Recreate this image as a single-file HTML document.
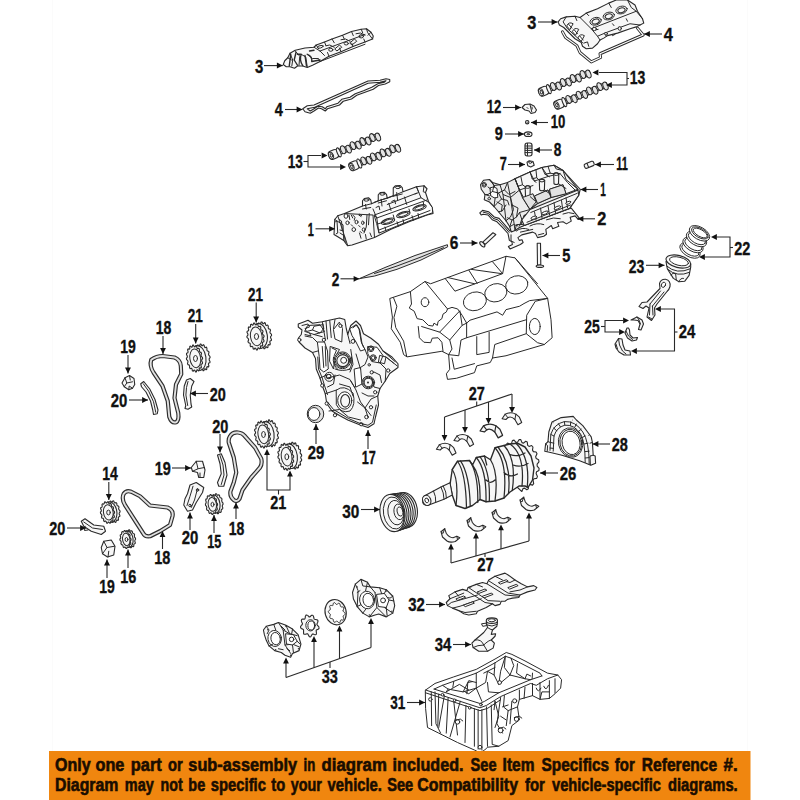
<!DOCTYPE html>
<html><head><meta charset="utf-8"><title>Engine parts diagram</title>
<style>
html,body{margin:0;padding:0;background:#fff;}
body{width:800px;height:800px;overflow:hidden;font-family:"Liberation Sans",sans-serif;}
svg{display:block}
.lb text{font:bold 18.2px "Liberation Sans",sans-serif;fill:#111;stroke:#111;stroke-width:.35px;}
.a{fill:none;stroke:#2a2a2a;stroke-width:1.1}
.h{fill:#111;stroke:none}
.p{fill:#f7f7f7;stroke:#2a2a2a;stroke-width:1.1;stroke-linejoin:round;stroke-linecap:round}
.d{fill:#e2e2e2;stroke:#2a2a2a;stroke-width:1;stroke-linejoin:round}
.w{fill:#fff;stroke:#2a2a2a;stroke-width:1;stroke-linejoin:round;stroke-linecap:round}
.l{fill:none;stroke:#2a2a2a;stroke-width:1;stroke-linejoin:round;stroke-linecap:round}
.t{fill:none;stroke:#444;stroke-width:.8;stroke-linejoin:round;stroke-linecap:round}
.k{fill:#333;stroke:none}
.m{fill:#ececec;stroke:#2a2a2a;stroke-width:1.1;stroke-linejoin:round;stroke-linecap:round}
.ch{fill:none;stroke:#2e2e2e;stroke-width:4.2;stroke-linejoin:round}
.ci{fill:none;stroke:#e0e0e0;stroke-width:1.9;stroke-linejoin:round}
.c{fill:#e4e4e4;stroke:#262626;stroke-width:1}
g.z *{vector-effect:non-scaling-stroke}
.bn text{font:bold 17.6px "Liberation Sans",sans-serif;fill:#1a0d00;stroke:#1a0d00;stroke-width:.6px;}
</style></head><body>
<svg width="800" height="800" viewBox="0 0 800 800">
<rect width="800" height="800" fill="#fff"/>
<path d="M52.5 0V751M747.5 0V751" stroke="#fbfbfb" stroke-width="1" fill="none"/>
<!-- 01_cover3L.svg -->
<g class="z" transform="translate(275,15) scale(0.15)">
<path class="p" d="M55 330L65 305L85 285L100 255L135 235L200 220L260 215L275 200L330 180L380 160L450 135L510 110L575 95L610 92L640 115L655 140L650 160L600 180L520 210L440 245L360 275L300 310L250 335L215 350L185 340L150 340L130 355L100 345L75 345Z"/>
<path class="l" d="M100 255L118 300L112 340M135 240L165 275L160 335M175 262L205 280L215 345M215 262L250 290L290 290L300 310M260 215L300 240L330 270M300 240L600 130M340 205L365 200L395 215M440 165L470 160L500 175M540 125L570 120L600 135M85 285L110 300M275 200L290 225"/>
<path class="l" style="stroke-width:1.4" d="M105 262L95 340M140 250L128 300L150 335M175 262Q160 300 185 338M215 262Q250 275 245 310L300 300M200 270L210 340M150 262L170 262M230 240L260 235"/>
<path class="l" d="M330 180L340 205M380 160L395 185M450 135L462 160M510 110L522 138M575 95L585 120M610 92L618 118L650 160M360 275L350 250M440 245L430 220M520 210L512 188M600 180L592 160M300 310L600 195M640 115L620 135"/>
<ellipse class="l" cx="372" cy="232" rx="14" ry="10"/><ellipse class="l" cx="475" cy="190" rx="14" ry="10"/><ellipse class="l" cx="575" cy="142" rx="15" ry="11"/><ellipse class="l" cx="302" cy="212" rx="20" ry="8" transform="rotate(-15 302 212)"/>
<path class="l" d="M400 225L430 200L445 215L415 238ZM500 185L530 160L545 175L515 198Z"/>
</g>
<g class="z" transform="translate(275,15) scale(0.15)">
<path class="p" fill-rule="evenodd" d="M185 625L215 605L260 600L620 440L700 435L740 425L765 430L765 445L735 460L690 470L655 495L600 515L545 535L510 560L455 575L430 600L350 625L335 640L310 625L290 620L260 640L235 655L200 645ZM215 625L265 615L620 455L700 448L740 438L730 448L685 458L645 482L590 505L535 525L500 548L445 562L420 588L345 612L335 625L315 612L285 608L255 628L235 640Z"/>
</g>

<!-- 02_cams.svg -->
<g transform="translate(330.5,155.8) rotate(-22.5)">
<rect class="p" x="0" y="-2.6" width="53.0" height="5.2" rx="1"/>
<rect class="p" x="-1.5" y="-4.3" width="9.5" height="8.6" rx="2.8"/>
<ellipse class="w" cx="0.6" cy="0" rx="2.3" ry="3.5"/>
<ellipse class="l" cx="0.9" cy="0" rx="1.1" ry="1.8"/>
<ellipse class="p" cx="9" cy="0" rx="1.7" ry="4.8"/>
<ellipse class="c" cx="14.0" cy="-0.8" rx="2.3" ry="4.1"/>
<ellipse class="c" cx="19.3" cy="0.8" rx="2.3" ry="4.1"/>
<ellipse class="c" cx="24.6" cy="-0.8" rx="2.3" ry="4.1"/>
<ellipse class="c" cx="29.9" cy="0.8" rx="2.3" ry="4.1"/>
<ellipse class="c" cx="35.2" cy="-0.8" rx="2.3" ry="4.1"/>
<ellipse class="c" cx="40.5" cy="0.8" rx="2.3" ry="4.1"/>
<ellipse class="c" cx="45.7" cy="-0.8" rx="2.3" ry="4.1"/>
<ellipse class="c" cx="51.0" cy="0.8" rx="2.3" ry="4.1"/>
</g>
<g transform="translate(351.0,167.0) rotate(-22.6)">
<rect class="p" x="0" y="-2.6" width="52.5" height="5.2" rx="1"/>
<rect class="p" x="-1.5" y="-4.3" width="9.5" height="8.6" rx="2.8"/>
<ellipse class="w" cx="0.6" cy="0" rx="2.3" ry="3.5"/>
<ellipse class="l" cx="0.9" cy="0" rx="1.1" ry="1.8"/>
<ellipse class="p" cx="9" cy="0" rx="1.7" ry="4.8"/>
<ellipse class="c" cx="14.0" cy="-0.8" rx="2.3" ry="4.1"/>
<ellipse class="c" cx="19.2" cy="0.8" rx="2.3" ry="4.1"/>
<ellipse class="c" cx="24.4" cy="-0.8" rx="2.3" ry="4.1"/>
<ellipse class="c" cx="29.7" cy="0.8" rx="2.3" ry="4.1"/>
<ellipse class="c" cx="34.9" cy="-0.8" rx="2.3" ry="4.1"/>
<ellipse class="c" cx="40.1" cy="0.8" rx="2.3" ry="4.1"/>
<ellipse class="c" cx="45.3" cy="-0.8" rx="2.3" ry="4.1"/>
<ellipse class="c" cx="50.5" cy="0.8" rx="2.3" ry="4.1"/>
</g>
<g transform="translate(540.5,92.5) rotate(-22.0)">
<rect class="p" x="0" y="-2.6" width="53.4" height="5.2" rx="1"/>
<rect class="p" x="-1.5" y="-4.3" width="9.5" height="8.6" rx="2.8"/>
<ellipse class="w" cx="0.6" cy="0" rx="2.3" ry="3.5"/>
<ellipse class="l" cx="0.9" cy="0" rx="1.1" ry="1.8"/>
<ellipse class="p" cx="9" cy="0" rx="1.7" ry="4.8"/>
<ellipse class="c" cx="14.0" cy="-0.8" rx="2.3" ry="4.1"/>
<ellipse class="c" cx="19.3" cy="0.8" rx="2.3" ry="4.1"/>
<ellipse class="c" cx="24.7" cy="-0.8" rx="2.3" ry="4.1"/>
<ellipse class="c" cx="30.0" cy="0.8" rx="2.3" ry="4.1"/>
<ellipse class="c" cx="35.4" cy="-0.8" rx="2.3" ry="4.1"/>
<ellipse class="c" cx="40.7" cy="0.8" rx="2.3" ry="4.1"/>
<ellipse class="c" cx="46.0" cy="-0.8" rx="2.3" ry="4.1"/>
<ellipse class="c" cx="51.4" cy="0.8" rx="2.3" ry="4.1"/>
</g>
<g transform="translate(556.0,105.5) rotate(-22.4)">
<rect class="p" x="0" y="-2.6" width="55.2" height="5.2" rx="1"/>
<rect class="p" x="-1.5" y="-4.3" width="9.5" height="8.6" rx="2.8"/>
<ellipse class="w" cx="0.6" cy="0" rx="2.3" ry="3.5"/>
<ellipse class="l" cx="0.9" cy="0" rx="1.1" ry="1.8"/>
<ellipse class="p" cx="9" cy="0" rx="1.7" ry="4.8"/>
<ellipse class="c" cx="14.0" cy="-0.8" rx="2.3" ry="4.1"/>
<ellipse class="c" cx="19.6" cy="0.8" rx="2.3" ry="4.1"/>
<ellipse class="c" cx="25.2" cy="-0.8" rx="2.3" ry="4.1"/>
<ellipse class="c" cx="30.8" cy="0.8" rx="2.3" ry="4.1"/>
<ellipse class="c" cx="36.4" cy="-0.8" rx="2.3" ry="4.1"/>
<ellipse class="c" cx="42.0" cy="0.8" rx="2.3" ry="4.1"/>
<ellipse class="c" cx="47.6" cy="-0.8" rx="2.3" ry="4.1"/>
<ellipse class="c" cx="53.2" cy="0.8" rx="2.3" ry="4.1"/>
</g>
<!-- 03_head1L.svg -->
<g class="z" transform="translate(325,170) scale(0.15)">
<path class="p" d="M60 430L65 330L85 305L130 290L250 240L250 205L262 190L290 185L305 200L310 225L355 205L355 165L368 150L395 148L410 162L415 188L455 172L455 120L470 105L500 103L515 118L520 145L610 112L660 105L680 125L670 150L690 210L715 250L720 290L680 300L560 345L440 395L330 450L180 500L150 505L125 470L85 445Z"/>
<path class="w" d="M330 300L640 185L690 215L715 250L718 285L560 340L440 390L360 420L345 360Z"/>
<path class="l" d="M85 305L150 500M65 330L120 365L125 470M130 290L320 300L330 450M295 290L290 365M330 300L345 320L680 200M250 240L310 225M355 205L415 188M455 172L520 145M270 230L275 260M375 195L380 240M478 150L484 200M360 400L700 270M345 320L360 420M480 345L490 375M580 305L590 335M610 112L640 185M400 380L405 400M520 330L525 355M620 290L625 315"/>
<ellipse class="p" cx="420" cy="342" rx="46" ry="17" transform="rotate(-17 420 342)"/><ellipse class="p" cx="522" cy="297" rx="46" ry="17" transform="rotate(-17 522 297)"/><ellipse class="p" cx="630" cy="252" rx="46" ry="17" transform="rotate(-17 630 252)"/>
<ellipse class="w" cx="140" cy="307" rx="13" ry="15"/><ellipse class="w" cx="150" cy="352" rx="11" ry="12"/><ellipse class="w" cx="210" cy="347" rx="10" ry="12"/><ellipse class="w" cx="252" cy="352" rx="8" ry="12"/><ellipse class="w" cx="192" cy="397" rx="12" ry="13"/><ellipse class="w" cx="258" cy="397" rx="10" ry="11"/>
<ellipse class="l" cx="276" cy="200" rx="16" ry="8"/><ellipse class="l" cx="382" cy="160" rx="16" ry="8"/><ellipse class="l" cx="486" cy="116" rx="16" ry="8"/>
<path class="l" d="M175 300L185 320M225 300L240 310M100 400L118 405M230 420L240 455M270 430L275 460"/>
<path class="l" d="M70 345L80 340L85 420L75 425M95 330L110 340L115 400M100 420L130 440L135 480M160 300L165 330M185 300L200 315L195 335M230 295L245 305M175 365L185 375M225 370L235 380M235 410L245 420M280 300L275 380L260 420M300 420L310 445M350 360L400 345M455 300L460 320M560 260L565 280M655 215L660 240M330 215L455 172M415 230L610 155M250 260L305 250M355 220L410 205M455 175L515 160M320 260L345 320M425 222L440 270M530 180L545 230M340 250L360 240L365 265M445 210L465 200L470 225M610 112L625 150L600 160M660 105L655 145L670 150"/>
<ellipse class="l" cx="420" cy="342" rx="34" ry="10" transform="rotate(-17 420 342)"/><ellipse class="l" cx="522" cy="297" rx="34" ry="10" transform="rotate(-17 522 297)"/><ellipse class="l" cx="630" cy="252" rx="34" ry="10" transform="rotate(-17 630 252)"/>
</g>
<g class="z" transform="translate(325,170) scale(0.15)">
<path class="d" d="M230 724L400 650L600 570L816 498L818 512L640 600L480 662L330 707Z"/>
<path class="l" d="M330 690L480 640L640 580L790 518"/>
</g>

<!-- 04_cover3R.svg -->
<g class="z" transform="translate(550,0) scale(0.125)">
<path class="l" style="stroke-width:3" d="M100 255L125 300L215 365L240 420L330 495L405 460L400 430L745 280L700 225"/>
<path class="l" style="stroke:#fff;stroke-width:1.2" d="M100 255L125 300L215 365L240 420L330 495L405 460L400 430L745 280L700 225"/>
<path class="p" d="M65 175L85 150L130 135L200 130L240 140L290 105L380 70L470 25L530 0L620 0L680 40L700 90L740 150L750 185L720 200L690 215L640 230L540 265L460 285L430 305L400 320L380 350L340 385L290 390L260 370L250 340L200 310L150 260L110 220L75 200Z"/>
<path class="l" d="M240 140L330 230L380 290L400 320M130 135L105 175L140 230L260 340M200 130L215 165M330 230L690 90L740 150M380 290L450 260L640 190L720 200M290 105L310 125M470 25L490 60M620 0L650 60L690 90"/>
<ellipse class="w" cx="365" cy="170" rx="46" ry="30" transform="rotate(-15 365 170)"/><ellipse class="p" cx="365" cy="172" rx="30" ry="19" transform="rotate(-15 365 172)"/>
<ellipse class="w" cx="470" cy="128" rx="46" ry="30" transform="rotate(-15 470 128)"/><ellipse class="p" cx="470" cy="130" rx="30" ry="19" transform="rotate(-15 470 130)"/>
<ellipse class="w" cx="572" cy="80" rx="46" ry="30" transform="rotate(-15 572 80)"/><ellipse class="p" cx="572" cy="82" rx="30" ry="19" transform="rotate(-15 572 82)"/>
<path class="w" d="M135 205Q150 170 185 190Q170 215 160 235ZM180 250Q195 215 230 235Q215 262 205 280ZM225 300Q240 265 275 285Q262 312 250 330Z"/>
<path class="l" d="M150 195L175 225M195 240L220 270M240 290L265 320M270 345L300 335L310 370M350 215L360 240L385 235M440 265L450 290M500 285L520 275M555 215L565 240M610 150L620 170M500 190L512 205"/>
<ellipse class="w" cx="355" cy="232" rx="16" ry="13"/><ellipse class="w" cx="558" cy="228" rx="13" ry="14"/><ellipse class="w" cx="448" cy="270" rx="12" ry="10"/>
</g>

<!-- 05_head1R.svg -->
<g class="z" transform="translate(470,160) scale(0.15)">
</g>
<g class="z" transform="translate(475,195) scale(0.1375)">
<path class="p" d="M35 130L55 112L100 122L140 160L175 170L215 215L255 262L275 250L700 95L760 170L750 178L728 152L692 162L700 190L665 210L640 195L600 200L610 228L565 245L555 222L515 250L520 285L500 300L455 310L440 280L420 270L340 290L312 310L322 330L342 325L350 345L330 360L255 392L243 375L272 360L268 340L250 330L240 280L200 235L160 195L125 180L95 145L60 140L45 145Z"/>
<path class="l" d="M300 262Q340 230 390 250M400 225Q450 198 500 215M520 180Q570 158 620 172M640 138Q680 118 720 135M60 125L98 134L132 170L168 182L208 225L248 272M262 290L262 335L285 345M330 270L420 250M460 290L500 280"/>
</g>
<g class="z" transform="translate(470,160) scale(0.15)">
<path class="m" d="M70 165L90 135L130 130L150 150L200 165L250 150L300 125L400 80L480 50L560 35L620 70L735 195L725 235L665 321L361 437L330 450L300 470L275 480L265 445L240 405L190 345L160 310L130 280L95 265L100 230L75 195Z"/>
<path class="p" d="M300 125L400 80L480 50L560 35L620 70L720 195L640 225L540 250L450 290L400 330L350 250Z"/>
<path class="l" d="M620 70L640 130L720 195M400 80L430 140M480 50L520 110M300 125L330 200L400 330M330 200L420 170M430 140L520 110L600 90M450 290L430 240L520 200L540 250M540 250L530 195L620 165L640 225M340 430L360 370L440 350M360 370L700 235M380 400L690 260M150 150L175 200L160 310M200 165L220 230L240 405M250 150L270 250L300 470M220 230L270 250L330 200M100 230L130 240L175 200"/>
<path class="p" d="M368 178Q385 165 402 178L400 245Q385 255 370 245ZM462 135Q480 122 498 135L496 200Q480 210 464 200ZM558 92Q575 80 592 92L590 158Q575 168 560 158Z"/>
<path class="d" d="M430 240L520 200L540 250L450 290ZM530 195L620 165L640 225L540 250ZM350 250L420 225L440 280L400 330Z"/>
<ellipse class="w" cx="95" cy="165" rx="14" ry="16"/><ellipse class="w" cx="128" cy="258" rx="9" ry="8"/><ellipse class="w" cx="385" cy="385" rx="14" ry="10"/><ellipse class="w" cx="425" cy="390" rx="12" ry="9"/>
<path class="w" d="M135 185Q160 170 180 190L185 250Q160 260 140 240Z"/>
<path class="l" d="M180 280L215 300L210 340M280 300L320 320L310 380M265 445L290 430L320 440"/>
<path class="l" d="M130 130L160 170L150 210L120 230L100 230M160 170L200 165M150 210L190 220L210 260L180 290L160 310M120 180L140 195M190 220L230 200L250 150M210 260L250 270L260 300M230 200L260 230L300 210M300 125L320 175L350 165L340 115M400 80L415 125L445 118L440 68M480 50L500 95L535 88L520 42M350 165L368 178M445 118L462 135M535 88L558 92M320 175L335 215M415 125L440 150M500 95L530 112M600 90L650 150L700 200M560 35L575 60L620 70M590 158L640 190M496 200L540 230M402 245L430 270M440 350L445 320L560 275L560 300M640 270L640 245L560 275M470 330L480 345M530 305L540 322M600 280L610 295M660 255L670 262M300 470L310 430L350 430M330 440L345 395L400 400M345 395L330 350L400 330M265 445L280 400L310 380L330 350M240 405L270 380L290 330L270 250M190 345L215 340L240 300M280 400L250 385"/>
<ellipse class="l" cx="385" cy="180" rx="17" ry="9"/><ellipse class="l" cx="480" cy="137" rx="17" ry="9"/><ellipse class="l" cx="575" cy="94" rx="17" ry="9"/>
<ellipse class="l" cx="95" cy="165" rx="8" ry="9"/>
<path class="p" d="M400 330L720 200L725 235L665 321L361 437L345 400Z"/>
<path class="l" d="M405 350L715 222M380 415L670 300M470 320L480 385M560 285L570 350M640 252L650 318M430 345L440 400M520 305L530 365M610 270L618 330"/>
<ellipse class="w" cx="583" cy="318" rx="24" ry="9" transform="rotate(-22 583 318)"/><ellipse class="w" cx="500" cy="352" rx="24" ry="9" transform="rotate(-22 500 352)"/><ellipse class="w" cx="425" cy="385" rx="20" ry="9" transform="rotate(-22 425 385)"/><ellipse class="w" cx="655" cy="285" rx="18" ry="8" transform="rotate(-22 655 285)"/>
<path class="p" d="M85 547L153 485L172 497L102 562Z"/><ellipse class="p" cx="82" cy="562" rx="11" ry="22" transform="rotate(-42 82 562)"/>
<path class="p" d="M448 555L470 555L472 700L450 700Z"/><ellipse class="p" cx="466" cy="708" rx="25" ry="8"/>
<path class="p" d="M380 15L395 5L420 10L428 35L405 46L385 38Z"/><ellipse class="w" cx="402" cy="16" rx="10" ry="6"/>
</g>
<g transform="translate(585.5,166.3) rotate(-22)"><rect class="p" x="-1" y="-2.3" width="10" height="4.6" rx="1.5"/><path class="l" d="M2.5 -2.3V2.3"/></g>

<!-- 06_small.svg -->
<g class="z" transform="translate(500,95) scale(0.1)">
<path class="p" d="M220 125L250 95L300 90L340 110L365 150L350 175L310 185L290 160L250 150Z"/><path class="l" d="M300 95L318 170M270 125L280 135M320 120L322 140"/>
<circle class="p" cx="272" cy="272" r="17"/><circle class="k" cx="272" cy="272" r="6"/>
<ellipse class="p" cx="282" cy="392" rx="38" ry="23"/><ellipse class="w" cx="282" cy="392" rx="13" ry="6"/>
<rect class="p" x="250" y="480" width="70" height="130" rx="22"/><path class="l" d="M252 510H318M252 532H318M252 554H318M252 576H318M275 485V605"/>
</g>

<!-- 07_block.svg -->
<g class="z" transform="translate(380,250) scale(0.225)">
<path class="w" d="M45 215L135 185L185 150L200 140L225 150L560 28L600 35L745 215L760 310L765 390L730 420L560 470L500 480L490 500L430 515L420 545L340 570L300 575L295 550L310 530L305 465L275 450L120 475L105 465L90 410L50 350L55 300Z"/>
<path class="l" d="M135 185L140 240L130 258L152 272L165 305L190 310L215 335L235 338L240 325L255 335L258 318L275 305L280 285L295 275L300 262L200 140M290 127L333 183L545 105L560 28M300 122L420 150M395 90L432 148M405 86L540 105M500 52L545 105M300 262L320 255L345 262L365 290L385 325L400 312L520 275L545 290L560 265L620 250L640 238L665 225L745 215M745 215L690 228L652 290L650 372L700 412L730 420M385 325L385 390L360 400L350 470L305 465M385 390L650 310M430 385L430 465L485 455L485 365M500 480L510 420L650 372M170 340L175 390L195 410L225 412L232 392L258 390L275 410L280 450M185 340L265 365L310 400L365 335L355 270L265 365M365 335L385 325M310 400L320 440L305 465M60 212L75 250L62 300L70 345L105 405L118 470M320 480L330 530L420 505M600 35L700 150"/>
<ellipse class="l" cx="200" cy="232" rx="17" ry="20"/>
<ellipse class="l" cx="422" cy="228" rx="52" ry="41" transform="rotate(-15 422 228)"/><ellipse class="l" cx="515" cy="190" rx="50" ry="40" transform="rotate(-15 515 190)"/><ellipse class="l" cx="608" cy="155" rx="50" ry="40" transform="rotate(-15 608 155)"/>
<ellipse class="l" cx="688" cy="340" rx="24" ry="36"/>
</g>

<!-- 08_piston.svg -->
<g class="z" transform="translate(650,215) scale(0.1)">
<g fill="#fff" stroke="#2a2a2a" stroke-width="1">
<ellipse cx="400" cy="355" rx="112" ry="62" transform="rotate(30 400 355)"/><ellipse class="l" cx="404" cy="350" rx="95" ry="48" transform="rotate(30 404 350)"/>
<ellipse cx="430" cy="300" rx="112" ry="62" transform="rotate(30 430 300)"/><ellipse class="l" cx="434" cy="295" rx="95" ry="48" transform="rotate(30 434 295)"/>
<ellipse cx="465" cy="240" rx="112" ry="62" transform="rotate(30 465 240)"/><ellipse class="l" cx="469" cy="235" rx="95" ry="48" transform="rotate(30 469 235)"/>
<ellipse cx="495" cy="183" rx="112" ry="62" transform="rotate(30 495 183)"/><ellipse class="l" cx="499" cy="180" rx="93" ry="46" transform="rotate(30 499 180)"/>
<ellipse cx="502" cy="180" rx="78" ry="34" transform="rotate(30 502 180)"/>
</g>
</g>
<g class="z" transform="translate(580,230) scale(0.225)">
<path class="p" d="M382 140L388 172L415 215L440 230L465 228L485 202L492 165L492 150Z"/>
<path class="l" d="M385 160Q430 200 491 172M389 174Q432 212 487 188M405 200Q412 185 425 195L428 222M440 230Q445 212 460 215"/>
<ellipse class="p" cx="437" cy="140" rx="56" ry="27" transform="rotate(14 437 140)"/>
<ellipse class="w" cx="440" cy="139" rx="43" ry="18" transform="rotate(14 440 139)"/>
</g>
<g class="z" transform="translate(610,275) scale(0.1)">
<path class="p" d="M495 85Q505 40 555 42Q610 55 600 115Q590 150 570 165L470 290L445 330L450 400L415 455L370 420L390 330L360 310L330 335L290 315L320 275L370 270L500 135Z"/>
<ellipse class="w" cx="535" cy="98" rx="20" ry="27" transform="rotate(25 535 98)"/>
<path class="l" d="M505 160L400 290M540 170L425 310M400 290L395 400M425 310L430 400M385 420L420 440"/>
<path class="p" d="M210 450L270 420L320 450L335 490L310 550L285 545L300 490L280 455L240 450Z"/><path class="l" d="M270 420L290 450L305 490"/>
<path class="p" d="M170 530L150 580L175 630L220 660L265 650L275 625L230 630L200 600L195 550L185 530Z"/><path class="l" d="M160 560L185 610L225 645"/>
<path class="p" d="M50 690L85 635L120 640L130 700L150 750L200 760L205 800L140 800L90 770L60 730Z"/><path class="l" d="M85 635L95 700L125 760L160 790M60 690L75 740"/>
</g>

<!-- 09_cover17.svg -->
<g class="z" transform="translate(290,312) scale(0.15)">
<path class="p" d="M55 80L95 65L120 55L150 75L215 65L260 55L330 40L365 50L375 110L385 150L405 90L440 60L470 90L490 145L540 175L590 215L620 260L680 300L720 345L720 370L665 410L635 460L600 510L585 560L590 620L570 700L560 745L520 770L460 750L385 720L330 690L280 660L245 610L235 545L215 490L200 440L175 380L170 310L150 270L100 240L60 200L55 175L75 150L80 120L55 100Z"/>
<path class="w" d="M185 200L230 200L250 260L255 380L225 400L200 380L195 300ZM270 230L330 250L300 300L290 380L265 330ZM400 110L440 85L465 120L480 210L500 250L470 260L440 200L415 160ZM330 70L350 110L345 200L300 180L290 120ZM520 230L580 235L620 290L600 340L545 330L520 280ZM430 380L470 370L480 480L440 500ZM120 90L200 85L230 130L160 150L100 130Z"/>
<circle class="w" cx="350" cy="322" r="56"/><circle class="p" cx="352" cy="324" r="40"/><circle class="w" cx="358" cy="322" r="20"/>
<circle class="w" cx="522" cy="470" r="42"/><circle class="p" cx="522" cy="470" r="28"/><circle class="k" cx="520" cy="470" r="7"/>
<ellipse class="w" cx="365" cy="590" rx="47" ry="58"/><ellipse class="p" cx="368" cy="592" rx="30" ry="42"/>
<circle class="w" cx="262" cy="432" r="30"/><circle class="p" cx="258" cy="430" r="15"/>
<g class="w"><circle cx="62" cy="186" r="11"/><circle cx="215" cy="490" r="11"/><circle cx="245" cy="610" r="11"/><circle cx="300" cy="688" r="11"/><circle cx="475" cy="748" r="11"/><circle cx="540" cy="635" r="11"/><circle cx="568" cy="535" r="11"/><circle cx="655" cy="390" r="11"/><circle cx="545" cy="402" r="11"/><circle cx="420" cy="196" r="13"/><circle cx="336" cy="92" r="11"/><circle cx="226" cy="186" r="11"/><circle cx="510" cy="700" r="12"/><circle cx="540" cy="245" r="11"/><circle cx="555" cy="305" r="12"/><circle cx="528" cy="352" r="8"/></g>
<path class="l" d="M215 230L225 370M235 230L240 360M250 440L330 420L400 450L440 520L470 600L540 690M260 660L330 650L390 700L470 720M330 480L400 500L420 560M585 560L540 580L500 640M600 340L640 380L635 460M440 280L470 380M405 250L420 350L400 400M150 270L185 260M100 160L150 170L180 200M300 420L290 480L250 500M640 300L690 340M385 150L400 210"/>
<path class="l" d="M80 90L120 80L130 100L100 110L110 130L150 120L160 95L215 85M150 120L200 140L225 110L220 80M100 150L140 160L130 140M160 150L215 165M250 600L290 650L340 680L390 710L460 740L520 755L550 735L575 620M185 300L190 380L215 440L230 490L250 550M310 520Q360 480 420 540Q440 620 400 660Q340 680 310 620ZM620 260L700 330M640 300L715 360M600 290L640 300L630 345L592 335ZM420 105L445 85L460 110L475 200L490 235M280 240L310 255L295 290M300 380Q350 400 400 380M290 300Q280 350 320 385M410 300Q420 350 395 385M240 60L250 180M265 58L275 170M300 50L290 110M215 65L235 180M500 250L520 300L500 350L470 370M560 400L600 420L610 470M480 540L520 560L560 560M450 600L500 640L520 700M405 460L430 500M200 440L245 420M235 545L280 530L310 520M600 510L560 500L545 440"/>
<circle class="l" cx="540" cy="245" r="19"/><circle class="l" cx="555" cy="305" r="20"/><circle class="l" cx="350" cy="322" r="48"/><circle class="l" cx="522" cy="470" r="35"/>
<ellipse class="d" cx="170" cy="680" rx="55" ry="58"/><ellipse class="w" cx="160" cy="680" rx="39" ry="43"/>
</g>

<!-- 10_sprockets.svg -->
<path class="p" d="M271.4 334.2L271.6 335.5L270.6 336.6L270.6 337.8L271.5 339.4L271.3 340.6L270.1 341.0L269.8 342.0L270.3 344.0L269.8 345.0L268.5 344.6L267.9 345.3L268.0 347.3L267.2 347.8L266.1 346.7L265.4 347.0L264.9 348.7L264.0 348.8L263.2 347.1L262.4 346.9L261.5 348.2L260.7 347.7L260.3 345.7L259.6 345.1L258.4 345.7L257.7 344.8L257.8 342.8L257.2 341.8L255.9 341.6L255.5 340.4L256.1 338.7L255.8 337.6L254.6 336.6L254.4 335.2L255.4 334.1L255.4 333.0L254.5 331.4L254.7 330.1L255.9 329.7L256.2 328.7L255.7 326.8L256.2 325.8L257.5 326.2L258.1 325.5L258.0 323.5L258.8 322.9L259.9 324.0L260.6 323.8L261.1 322.0L262.0 322.0L262.8 323.6L263.6 323.8L264.5 322.6L265.3 323.0L265.7 325.0L266.4 325.6L267.6 325.1L268.3 326.0L268.2 328.0L268.8 328.9L270.1 329.2L270.5 330.4L269.9 332.1L270.2 333.2Z"/>
<ellipse class="p" cx="259.6" cy="335.9" rx="7.8" ry="12.4" transform="rotate(-8 259.6 336.5)"/>
<path class="p" d="M263.9 335.3L264.1 336.6L263.1 337.8L263.1 338.9L264.0 340.5L263.8 341.8L262.6 342.2L262.3 343.2L262.8 345.1L262.3 346.1L261.0 345.7L260.4 346.4L260.5 348.4L259.7 348.9L258.6 347.8L257.9 348.1L257.4 349.9L256.5 349.9L255.7 348.2L254.9 348.1L254.0 349.3L253.2 348.8L252.8 346.9L252.1 346.3L250.9 346.8L250.2 345.9L250.3 343.9L249.7 343.0L248.4 342.7L248.0 341.5L248.6 339.8L248.3 338.7L247.1 337.7L246.9 336.4L247.9 335.2L247.9 334.1L247.0 332.5L247.2 331.2L248.4 330.8L248.7 329.8L248.2 327.9L248.7 326.9L250.0 327.3L250.6 326.6L250.5 324.6L251.3 324.1L252.4 325.2L253.1 324.9L253.6 323.1L254.5 323.1L255.3 324.8L256.1 324.9L257.0 323.7L257.8 324.2L258.2 326.1L258.9 326.7L260.1 326.2L260.8 327.1L260.7 329.1L261.3 330.0L262.6 330.3L263.0 331.5L262.4 333.2L262.7 334.3Z"/>
<ellipse class="l" cx="256.3" cy="336.5" rx="5.8" ry="9.4" transform="rotate(-8 255.5 336.5)"/>
<ellipse class="l" cx="256.5" cy="336.5" rx="2.1" ry="3.0"/>
<path class="p" d="M209.9 356.3L210.1 357.6L209.2 358.7L209.2 359.9L210.0 361.5L209.9 362.7L208.7 363.1L208.4 364.1L208.9 366.0L208.5 367.0L207.2 366.6L206.7 367.3L206.8 369.3L206.1 369.8L205.0 368.7L204.3 369.0L203.9 370.7L203.1 370.8L202.3 369.1L201.6 368.9L200.7 370.2L199.9 369.7L199.5 367.7L198.9 367.1L197.7 367.6L197.1 366.7L197.1 364.7L196.6 363.8L195.4 363.5L195.0 362.3L195.5 360.6L195.2 359.5L194.1 358.5L193.9 357.2L194.8 356.0L194.8 354.9L194.0 353.3L194.1 352.1L195.3 351.7L195.6 350.7L195.1 348.7L195.5 347.7L196.8 348.1L197.3 347.5L197.2 345.5L197.9 344.9L199.0 346.0L199.7 345.8L200.1 344.0L200.9 344.0L201.7 345.6L202.4 345.8L203.3 344.6L204.1 345.1L204.5 347.0L205.1 347.7L206.3 347.1L206.9 348.0L206.9 350.0L207.4 351.0L208.6 351.2L209.0 352.4L208.5 354.1L208.8 355.2Z"/>
<ellipse class="p" cx="198.6" cy="357.9" rx="7.4" ry="12.4" transform="rotate(-8 198.6 358.5)"/>
<path class="p" d="M202.4 357.4L202.6 358.7L201.7 359.8L201.7 361.0L202.5 362.6L202.4 363.8L201.2 364.2L200.9 365.2L201.4 367.2L201.0 368.1L199.7 367.7L199.2 368.4L199.3 370.4L198.6 371.0L197.5 369.8L196.8 370.1L196.4 371.9L195.6 371.9L194.8 370.2L194.1 370.0L193.2 371.3L192.4 370.8L192.0 368.8L191.4 368.2L190.2 368.7L189.6 367.8L189.6 365.9L189.1 364.9L187.9 364.6L187.5 363.4L188.0 361.8L187.7 360.6L186.6 359.6L186.4 358.3L187.3 357.2L187.3 356.0L186.5 354.4L186.6 353.2L187.8 352.8L188.1 351.8L187.6 349.8L188.0 348.9L189.3 349.3L189.8 348.6L189.7 346.6L190.4 346.0L191.5 347.2L192.2 346.9L192.6 345.1L193.4 345.1L194.2 346.8L194.9 347.0L195.8 345.7L196.6 346.2L197.0 348.2L197.6 348.8L198.8 348.3L199.4 349.2L199.4 351.1L199.9 352.1L201.1 352.4L201.5 353.6L201.0 355.2L201.3 356.4Z"/>
<ellipse class="l" cx="195.3" cy="358.5" rx="5.4" ry="9.4" transform="rotate(-8 194.5 358.5)"/>
<ellipse class="l" cx="195.5" cy="358.5" rx="2.0" ry="3.0"/>
<path class="p" d="M278.2 432.2L278.4 433.5L277.5 434.7L277.5 435.8L278.4 437.4L278.2 438.6L277.1 439.0L276.8 440.0L277.3 442.0L276.9 442.9L275.7 442.6L275.2 443.2L275.2 445.2L274.5 445.8L273.4 444.7L272.8 444.9L272.4 446.7L271.6 446.7L270.8 445.0L270.1 444.8L269.3 446.1L268.5 445.6L268.1 443.6L267.5 443.0L266.4 443.5L265.7 442.6L265.8 440.6L265.3 439.7L264.1 439.4L263.7 438.2L264.2 436.5L263.9 435.4L262.8 434.4L262.6 433.1L263.5 431.9L263.5 430.8L262.6 429.2L262.8 428.0L263.9 427.6L264.2 426.6L263.7 424.6L264.1 423.7L265.3 424.0L265.8 423.4L265.8 421.4L266.5 420.8L267.6 421.9L268.2 421.7L268.6 419.9L269.4 419.9L270.2 421.6L270.9 421.8L271.7 420.5L272.5 421.0L272.9 423.0L273.5 423.6L274.6 423.1L275.3 424.0L275.2 426.0L275.7 426.9L276.9 427.2L277.3 428.4L276.8 430.1L277.1 431.2Z"/>
<ellipse class="p" cx="266.9" cy="433.9" rx="7.2" ry="12.4" transform="rotate(-8 266.9 434.5)"/>
<path class="p" d="M270.2 433.4L270.4 434.7L269.5 435.9L269.5 437.0L270.4 438.6L270.2 439.8L269.1 440.2L268.8 441.2L269.3 443.2L268.9 444.1L267.7 443.8L267.2 444.4L267.2 446.4L266.5 447.0L265.4 445.9L264.8 446.1L264.4 447.9L263.6 447.9L262.8 446.2L262.1 446.0L261.3 447.3L260.5 446.8L260.1 444.8L259.5 444.2L258.4 444.7L257.7 443.8L257.8 441.8L257.3 440.9L256.1 440.6L255.7 439.4L256.2 437.7L255.9 436.6L254.8 435.6L254.6 434.3L255.5 433.1L255.5 432.0L254.6 430.4L254.8 429.2L255.9 428.8L256.2 427.8L255.7 425.8L256.1 424.9L257.3 425.2L257.8 424.6L257.8 422.6L258.5 422.0L259.6 423.1L260.2 422.9L260.6 421.1L261.4 421.1L262.2 422.8L262.9 423.0L263.7 421.7L264.5 422.2L264.9 424.2L265.5 424.8L266.6 424.3L267.3 425.2L267.2 427.2L267.7 428.1L268.9 428.4L269.3 429.6L268.8 431.3L269.1 432.4Z"/>
<ellipse class="l" cx="263.3" cy="434.5" rx="5.3" ry="9.4" transform="rotate(-8 262.5 434.5)"/>
<ellipse class="l" cx="263.5" cy="434.5" rx="1.9" ry="3.0"/>
<path class="p" d="M301.5 454.5L301.7 455.8L300.8 457.0L300.8 458.1L301.7 459.7L301.5 460.9L300.4 461.3L300.1 462.3L300.6 464.3L300.2 465.2L299.0 464.9L298.5 465.5L298.5 467.5L297.8 468.1L296.7 467.0L296.1 467.2L295.7 469.0L294.9 469.0L294.1 467.3L293.4 467.1L292.6 468.4L291.8 467.9L291.4 465.9L290.8 465.3L289.7 465.8L289.0 464.9L289.1 462.9L288.6 462.0L287.4 461.7L287.0 460.5L287.5 458.8L287.2 457.7L286.1 456.7L285.9 455.4L286.8 454.2L286.8 453.1L285.9 451.5L286.1 450.3L287.2 449.9L287.5 448.9L287.0 446.9L287.4 446.0L288.6 446.3L289.1 445.7L289.1 443.7L289.8 443.1L290.9 444.2L291.5 444.0L291.9 442.2L292.7 442.2L293.5 443.9L294.2 444.1L295.0 442.8L295.8 443.3L296.2 445.3L296.8 445.9L297.9 445.4L298.6 446.3L298.5 448.3L299.0 449.2L300.2 449.5L300.6 450.7L300.1 452.4L300.4 453.5Z"/>
<ellipse class="p" cx="290.2" cy="456.2" rx="7.2" ry="12.4" transform="rotate(-8 290.2 456.8)"/>
<path class="p" d="M293.5 455.7L293.7 457.0L292.8 458.2L292.8 459.3L293.7 460.9L293.5 462.1L292.4 462.5L292.1 463.5L292.6 465.5L292.2 466.4L291.0 466.1L290.5 466.7L290.5 468.7L289.8 469.3L288.7 468.2L288.1 468.4L287.7 470.2L286.9 470.2L286.1 468.5L285.4 468.3L284.6 469.6L283.8 469.1L283.4 467.1L282.8 466.5L281.7 467.0L281.0 466.1L281.1 464.1L280.6 463.2L279.4 462.9L279.0 461.7L279.5 460.0L279.2 458.9L278.1 457.9L277.9 456.6L278.8 455.4L278.8 454.3L277.9 452.7L278.1 451.5L279.2 451.1L279.5 450.1L279.0 448.1L279.4 447.2L280.6 447.5L281.1 446.9L281.1 444.9L281.8 444.3L282.9 445.4L283.5 445.2L283.9 443.4L284.7 443.4L285.5 445.1L286.2 445.3L287.0 444.0L287.8 444.5L288.2 446.5L288.8 447.1L289.9 446.6L290.6 447.5L290.5 449.5L291.0 450.4L292.2 450.7L292.6 451.9L292.1 453.6L292.4 454.7Z"/>
<ellipse class="l" cx="286.6" cy="456.8" rx="5.3" ry="9.4" transform="rotate(-8 285.8 456.8)"/>
<ellipse class="l" cx="286.8" cy="456.8" rx="1.9" ry="3.0"/>
<path class="p" d="M119.9 510.7L120.1 511.9L119.2 513.0L119.2 514.0L119.9 515.5L119.7 516.6L118.6 517.0L118.3 517.8L118.5 519.6L118.0 520.4L116.9 519.9L116.3 520.4L116.0 522.1L115.3 522.4L114.3 521.3L113.7 521.3L113.0 522.5L112.2 522.3L111.6 520.7L110.9 520.2L109.9 520.8L109.2 520.1L109.1 518.3L108.6 517.5L107.4 517.3L107.0 516.2L107.4 514.6L107.1 513.6L106.1 512.6L105.9 511.4L106.8 510.4L106.8 509.3L106.1 507.8L106.3 506.7L107.4 506.4L107.7 505.5L107.5 503.8L108.0 503.0L109.1 503.4L109.7 502.9L110.0 501.3L110.7 501.0L111.7 502.1L112.3 502.1L113.0 500.8L113.8 501.1L114.4 502.7L115.1 503.1L116.1 502.6L116.8 503.3L116.9 505.0L117.4 505.8L118.6 506.1L119.0 507.2L118.6 508.7L118.9 509.7Z"/>
<ellipse class="p" cx="110.5" cy="512.1" rx="6.4" ry="10.1" transform="rotate(-8 110.5 512.5)"/>
<path class="p" d="M114.4 511.5L114.6 512.8L113.7 513.8L113.7 514.9L114.4 516.3L114.2 517.5L113.1 517.8L112.8 518.7L113.0 520.4L112.5 521.2L111.4 520.8L110.8 521.3L110.5 522.9L109.8 523.2L108.8 522.1L108.2 522.1L107.5 523.3L106.7 523.1L106.1 521.5L105.4 521.1L104.4 521.6L103.7 520.9L103.6 519.1L103.1 518.3L101.9 518.1L101.5 517.0L101.9 515.5L101.6 514.4L100.6 513.5L100.4 512.2L101.3 511.2L101.3 510.1L100.6 508.7L100.8 507.5L101.9 507.2L102.2 506.3L102.0 504.6L102.5 503.8L103.6 504.2L104.2 503.7L104.5 502.1L105.2 501.8L106.2 502.9L106.8 502.9L107.5 501.7L108.3 501.9L108.9 503.5L109.6 503.9L110.6 503.4L111.3 504.1L111.4 505.9L111.9 506.7L113.1 506.9L113.5 508.0L113.1 509.5L113.4 510.6Z"/>
<ellipse class="l" cx="108.3" cy="512.5" rx="4.8" ry="7.7" transform="rotate(-8 107.5 512.5)"/>
<ellipse class="l" cx="108.5" cy="512.5" rx="1.8" ry="2.4"/>
<path class="p" d="M135.4 538.1L135.6 539.2L134.9 540.2L134.8 541.2L135.3 542.6L135.1 543.6L134.2 543.9L133.8 544.6L133.8 546.2L133.2 546.8L132.3 546.2L131.7 546.5L131.3 547.7L130.5 547.8L129.8 546.6L129.2 546.3L128.4 546.9L127.7 546.4L127.4 544.8L126.9 544.1L125.9 543.9L125.4 542.9L125.7 541.5L125.4 540.5L124.6 539.6L124.4 538.4L125.1 537.4L125.2 536.4L124.7 535.0L124.9 534.0L125.8 533.8L126.2 533.0L126.2 531.5L126.8 530.9L127.7 531.4L128.3 531.1L128.7 529.9L129.5 529.9L130.2 531.1L130.8 531.3L131.6 530.7L132.3 531.3L132.6 532.8L133.1 533.5L134.1 533.7L134.6 534.7L134.3 536.1L134.6 537.1Z"/>
<ellipse class="p" cx="128.0" cy="539.1" rx="5.1" ry="8.3" transform="rotate(-8 128.0 539.5)"/>
<path class="p" d="M130.9 538.7L131.1 539.9L130.4 540.9L130.3 541.9L130.8 543.3L130.6 544.3L129.7 544.6L129.3 545.3L129.3 546.8L128.7 547.4L127.8 546.9L127.2 547.2L126.8 548.4L126.0 548.4L125.3 547.3L124.7 547.0L123.9 547.6L123.2 547.0L122.9 545.5L122.4 544.8L121.4 544.6L120.9 543.6L121.2 542.2L120.9 541.2L120.1 540.3L119.9 539.1L120.6 538.1L120.7 537.1L120.2 535.7L120.4 534.7L121.3 534.4L121.7 533.7L121.7 532.2L122.3 531.6L123.2 532.1L123.8 531.8L124.2 530.6L125.0 530.6L125.7 531.7L126.3 532.0L127.1 531.4L127.8 532.0L128.1 533.5L128.6 534.2L129.6 534.4L130.1 535.4L129.8 536.8L130.1 537.8Z"/>
<ellipse class="l" cx="126.3" cy="539.5" rx="3.7" ry="6.3" transform="rotate(-8 125.5 539.5)"/>
<ellipse class="l" cx="126.5" cy="539.5" rx="1.4" ry="2.0"/>
<path class="p" d="M222.9 502.8L223.1 504.1L222.4 505.2L222.3 506.3L222.8 507.9L222.6 509.0L221.6 509.3L221.2 510.1L221.2 511.8L220.6 512.5L219.5 511.9L218.9 512.2L218.4 513.6L217.6 513.6L216.8 512.3L216.1 512.0L215.2 512.7L214.5 512.0L214.2 510.4L213.6 509.6L212.6 509.3L212.0 508.2L212.3 506.6L212.0 505.5L211.1 504.5L210.9 503.2L211.6 502.1L211.7 501.0L211.2 499.4L211.4 498.3L212.4 498.0L212.8 497.2L212.8 495.5L213.4 494.8L214.5 495.4L215.1 495.1L215.6 493.8L216.4 493.7L217.2 495.1L217.9 495.3L218.8 494.7L219.5 495.3L219.8 497.0L220.4 497.8L221.4 498.0L222.0 499.1L221.7 500.7L222.0 501.8Z"/>
<ellipse class="p" cx="214.5" cy="504.1" rx="5.5" ry="9.2" transform="rotate(-8 214.5 504.5)"/>
<path class="p" d="M217.4 503.7L217.6 505.0L216.9 506.0L216.8 507.2L217.3 508.7L217.1 509.9L216.1 510.1L215.7 511.0L215.7 512.7L215.1 513.3L214.0 512.7L213.4 513.0L212.9 514.4L212.1 514.4L211.3 513.1L210.6 512.8L209.7 513.5L209.0 512.9L208.7 511.2L208.1 510.4L207.1 510.2L206.5 509.1L206.8 507.5L206.5 506.4L205.6 505.3L205.4 504.0L206.1 503.0L206.2 501.8L205.7 500.3L205.9 499.1L206.9 498.9L207.3 498.0L207.3 496.3L207.9 495.7L209.0 496.3L209.6 496.0L210.1 494.6L210.9 494.6L211.7 495.9L212.4 496.2L213.3 495.5L214.0 496.1L214.3 497.8L214.9 498.6L215.9 498.8L216.5 499.9L216.2 501.5L216.5 502.6Z"/>
<ellipse class="l" cx="212.3" cy="504.5" rx="4.1" ry="7.0" transform="rotate(-8 211.5 504.5)"/>
<ellipse class="l" cx="212.5" cy="504.5" rx="1.5" ry="2.2"/>
<!-- 11_chains.svg -->
<g class="z" transform="translate(110,335) scale(0.15)">
<path class="ch" d="M275 165Q310 140 350 140L430 150Q468 165 472 205L475 260L440 330L430 420L455 520Q462 570 440 582Q410 590 395 545L385 440L350 340L290 250Q262 205 275 165Z"/>
<path class="ci" d="M275 165Q310 140 350 140L430 150Q468 165 472 205L475 260L440 330L430 420L455 520Q462 570 440 582Q410 590 395 545L385 440L350 340L290 250Q262 205 275 165Z"/>
<path class="p" d="M205 325L225 310L265 360L300 430L320 500L315 525L290 530L285 500L270 440L240 380L210 345Z"/><path class="l" d="M222 325L258 375L290 445L305 515"/>
<path class="p" d="M510 300L535 290L560 310L545 340L535 400L540 460L545 480L520 495L500 490L505 470L490 400L495 340Z"/><path class="l" d="M520 310L510 350L506 400L518 470"/>
<path class="p" d="M80 320L100 285L130 270L160 290L165 330L150 355L125 365L95 345Z"/><path class="l" d="M100 285L112 320L95 345M112 320L150 312M130 270L135 300M125 365L128 340L150 355"/>
</g>
<g class="z" transform="translate(40,440) scale(0.25)">
<path class="ch" d="M335 215Q345 200 365 207L400 225L440 262L510 270Q535 280 530 305L520 340L480 365L440 385Q420 388 412 372L385 330L340 260Q325 235 335 215Z"/>
<path class="ci" d="M335 215Q345 200 365 207L400 225L440 262L510 270Q535 280 530 305L520 340L480 365L440 385Q420 388 412 372L385 330L340 260Q325 235 335 215Z"/>
<path class="p" d="M165 325L180 315L215 340L255 345L262 365L245 378L205 365L175 345Z"/><path class="l" d="M175 328L210 352L250 358M180 345L178 362L192 360"/>
<path class="p" d="M600 180L625 170L655 190L650 210L625 250L610 280L590 285L575 260L580 235L590 215Z"/><path class="l" d="M612 185L600 225L588 262M630 195L618 240L605 270"/><circle class="l" cx="630" cy="200" r="5"/><circle class="l" cx="600" cy="262" r="5"/>
<path class="p" d="M605 110L625 85L650 85L660 120L655 150L635 150L630 130L610 125Z"/><path class="l" d="M625 85L632 115L610 125M632 115L658 110M640 150L640 132"/>
<path class="p" d="M245 430L255 405L285 400L300 425L295 460L270 468L250 455Z"/><path class="l" d="M255 405L268 430L250 455M268 430L298 425M272 468L275 445"/>
</g>
<g class="z" transform="translate(180,390) scale(0.25)">
<path class="ch" d="M200 185Q210 168 232 170Q250 172 258 183L300 230L325 275Q330 295 320 310L285 350L250 400L238 435Q228 450 215 440Q198 425 202 405L215 370L225 330L215 270L195 210Q193 195 200 185Z"/>
<path class="ci" d="M200 185Q210 168 232 170Q250 172 258 183L300 230L325 275Q330 295 320 310L285 350L250 400L238 435Q228 450 215 440Q198 425 202 405L215 370L225 330L215 270L195 210Q193 195 200 185Z"/>
<path class="p" d="M150 260L165 255L180 290L188 340L175 385L155 385L150 370L165 335L160 295Z"/><path class="l" d="M160 262L172 300L176 340L165 378"/>
</g>

<!-- 12_crank.svg -->
<g class="z" transform="translate(370,480) scale(0.075)">
<ellipse class="p" cx="470" cy="400" rx="160" ry="235" transform="rotate(-10 470 400)"/>
<ellipse class="p" cx="440" cy="407" rx="161" ry="238" transform="rotate(-10 440 407)"/>
<ellipse class="p" cx="410" cy="414" rx="162" ry="240" transform="rotate(-10 410 414)"/>
<ellipse class="p" cx="380" cy="421" rx="163" ry="243" transform="rotate(-10 380 421)"/>
<ellipse class="p" cx="352" cy="428" rx="164" ry="246" transform="rotate(-10 352 428)"/>
<ellipse class="p" cx="326" cy="434" rx="164" ry="248" transform="rotate(-10 326 434)"/>
<ellipse class="p" cx="300" cy="440" rx="165" ry="250" transform="rotate(-10 300 440)"/>
<ellipse class="l" cx="318" cy="440" rx="138" ry="215" transform="rotate(-10 318 440)"/>
<ellipse class="l" cx="345" cy="435" rx="105" ry="165" transform="rotate(-10 345 435)"/>
<ellipse class="l" cx="385" cy="425" rx="65" ry="105" transform="rotate(-10 385 425)"/>
<ellipse class="l" cx="400" cy="420" rx="38" ry="62" transform="rotate(-10 400 420)"/>
</g>
<g class="z" transform="translate(420,435) scale(0.15)">
<path class="p" d="M575 62L584 54L600 63L610 58L616 37L627 34L640 49L650 48L661 30L672 31L680 51L690 54L705 42L715 47L718 69L727 76L744 70L753 80L750 101L756 111L774 113L780 125L771 145L775 157L791 165L793 179L781 194L781 207L794 222L793 236L777 245L774 257L783 276L778 289L760 292L754 302L758 324L750 334L732 329L724 337L722 359L712 365L697 354L687 357L679 377L640 340L560 120Z"/>
<path class="p" style="stroke-width:1.4" d="M200 330L215 230L250 175L330 170L350 200L375 150L430 140L470 165L500 85L560 70L600 60L650 55L700 80L740 140L760 220L750 300L720 350L700 340L660 340L600 380L560 420L500 440L440 445L400 430L350 470L300 490L240 470L215 400Z"/>
<path class="l" style="stroke-width:1.25" d="M250 175Q305 250 310 485M270 172Q330 260 335 475M330 170Q390 260 385 450M350 200Q405 270 400 430M375 150Q445 230 440 445M400 145Q470 240 462 440M470 165Q525 250 500 440M500 85Q585 180 560 420M520 80Q610 190 590 390M560 70Q645 160 615 370M600 60Q700 130 680 340M640 55Q735 150 715 345M430 140L445 200M215 230Q260 300 240 470M440 300Q470 330 500 300M560 250Q600 290 650 260M600 130Q650 150 700 120M620 200Q670 220 720 190"/>
<path class="p" d="M40 400L140 347L200 318L215 400L160 428L50 470Q15 470 18 435Q20 405 40 400Z"/>
<ellipse class="p" cx="45" cy="436" rx="27" ry="35" transform="rotate(-20 45 436)"/><ellipse class="w" cx="45" cy="436" rx="12" ry="16" transform="rotate(-20 45 436)"/>
<path class="l" d="M140 347Q160 385 160 428M155 340Q178 380 176 420M90 373Q108 410 105 448"/>
</g>
<g transform="translate(446.2,449.2) scale(1)"><path class="p" d="M-9.8 0L-6.8 -4.5Q-1 -7.5 4 -4.5L7.5 -1.5L9.8 3.8L6 6L3 0.8Q-1 -3 -4 -1L-6 0.8Z"/><path class="l" d="M-6.8 -4.5L-4 -1M4 -4.5L3 0.8"/></g>
<g transform="translate(463.8,440.5) scale(1)"><path class="p" d="M-9.8 0L-6.8 -4.5Q-1 -7.5 4 -4.5L7.5 -1.5L9.8 3.8L6 6L3 0.8Q-1 -3 -4 -1L-6 0.8Z"/><path class="l" d="M-6.8 -4.5L-4 -1M4 -4.5L3 0.8"/></g>
<g transform="translate(491.3,431) scale(1.15)"><path class="p" d="M-9.8 0L-6.8 -4.5Q-1 -7.5 4 -4.5L7.5 -1.5L9.8 3.8L6 6L3 0.8Q-1 -3 -4 -1L-6 0.8Z"/><path class="l" d="M-6.8 -4.5L-4 -1M4 -4.5L3 0.8"/></g>
<g transform="translate(511.9,418.7) scale(1)"><path class="p" d="M-9.8 0L-6.8 -4.5Q-1 -7.5 4 -4.5L7.5 -1.5L9.8 3.8L6 6L3 0.8Q-1 -3 -4 -1L-6 0.8Z"/><path class="l" d="M-6.8 -4.5L-4 -1M4 -4.5L3 0.8"/></g>
<g transform="translate(450,535.5) scale(1)"><path class="p" d="M-9 -3.8L-5.3 -6.8L-3.8 -2.3Q-1 2 3 2.2L6.8 0.8L9.8 2.3L5.3 6Q0 7.5 -3 5.5L-7.5 1.5Z"/><path class="l" d="M-9 -3.8L-7 -2L-5.3 -6.8M6.8 0.8L7.5 4"/></g>
<g transform="translate(476,524.5) scale(1)"><path class="p" d="M-9 -3.8L-5.3 -6.8L-3.8 -2.3Q-1 2 3 2.2L6.8 0.8L9.8 2.3L5.3 6Q0 7.5 -3 5.5L-7.5 1.5Z"/><path class="l" d="M-9 -3.8L-7 -2L-5.3 -6.8M6.8 0.8L7.5 4"/></g>
<g transform="translate(501,516.5) scale(1)"><path class="p" d="M-9 -3.8L-5.3 -6.8L-3.8 -2.3Q-1 2 3 2.2L6.8 0.8L9.8 2.3L5.3 6Q0 7.5 -3 5.5L-7.5 1.5Z"/><path class="l" d="M-9 -3.8L-7 -2L-5.3 -6.8M6.8 0.8L7.5 4"/></g>
<g transform="translate(529,504) scale(1)"><path class="p" d="M-9 -3.8L-5.3 -6.8L-3.8 -2.3Q-1 2 3 2.2L6.8 0.8L9.8 2.3L5.3 6Q0 7.5 -3 5.5L-7.5 1.5Z"/><path class="l" d="M-9 -3.8L-7 -2L-5.3 -6.8M6.8 0.8L7.5 4"/></g>
<!-- 13_seal28.svg -->
<g class="z" transform="translate(538,408) scale(0.08)">
<path class="p" d="M85 540L95 450L125 420L135 300L175 175L290 120L440 105L480 150L560 220L620 300L665 360L680 430L690 590L715 600L720 690L660 715L600 690L520 660L300 590L170 560Z"/>
<path class="l" d="M150 530L160 330Q200 200 330 170Q470 160 560 300Q640 420 640 700M190 540L200 350Q235 240 335 215Q450 205 530 320Q590 420 590 680M160 330L200 350M195 250L235 285M255 195L280 235M330 170L335 215M410 172L405 218M480 200L460 240M540 265L505 295M590 350L548 370M625 440L575 450M640 540L588 545M640 620L590 625M155 430L198 440M150 500L195 505M125 420L150 430M95 450L120 470L115 540M680 430L650 440M690 590L650 600L655 710"/>
<ellipse class="w" cx="408" cy="432" rx="152" ry="185" transform="rotate(-12 408 432)"/>
<ellipse class="l" cx="410" cy="434" rx="135" ry="168" transform="rotate(-12 410 434)"/>
<ellipse class="l" cx="414" cy="436" rx="112" ry="148" transform="rotate(-12 414 436)"/>
<circle class="k" cx="190" cy="185" r="6"/><circle class="k" cx="430" cy="150" r="6"/><circle class="k" cx="630" cy="345" r="6"/><circle class="k" cx="120" cy="520" r="6"/><circle class="k" cx="660" cy="600" r="6"/>
</g>

<!-- 14_pump.svg -->
<g class="z" transform="translate(255,570) scale(0.1875)">
<path class="p" d="M45 320L60 300L100 290L125 280L165 295L200 315L230 345L245 395L235 430L200 445L190 465L160 455L140 440L105 430L75 405L60 375L50 345Z"/>
<ellipse class="w" cx="105" cy="365" rx="36" ry="43" transform="rotate(-10 105 365)"/><ellipse class="l" cx="110" cy="366" rx="25" ry="33" transform="rotate(-10 110 366)"/>
<path class="l" d="M125 280L150 320L160 400L190 445M165 295L185 340L225 350M160 400L200 395L235 410M150 320L185 340M175 360L200 380M60 300L75 320L65 340M170 420L185 430"/>
<path class="w" d="M165 340L205 345L225 380L200 400L170 395Z"/><circle class="l" cx="195" cy="370" r="12"/><path class="l" d="M140 300L160 320M200 315L195 345M225 380L240 395M200 400L205 440M100 290L110 318M75 405L95 395M125 420L150 425"/>
<circle class="k" cx="68" cy="318" r="4"/><circle class="k" cx="165" cy="300" r="4"/><circle class="k" cx="232" cy="420" r="4"/><circle class="k" cx="110" cy="425" r="4"/><circle class="k" cx="190" cy="455" r="4"/>
<path class="p" d="M330 290L332 293L334 296L337 299L340 302L341 306L342 309L341 312L338 315L335 317L331 318L328 320L327 321L326 324L327 328L327 332L328 337L327 341L326 344L323 345L319 345L316 344L312 342L309 341L307 341L305 343L303 346L301 350L299 353L297 356L294 357L291 356L288 353L286 349L284 345L282 342L280 340L277 340L274 341L271 342L267 343L264 343L261 342L259 339L259 335L259 330L259 326L259 322L259 319L257 317L254 315L250 314L247 312L244 309L243 306L243 302L245 299L247 295L250 293L252 290L253 288L253 285L251 281L249 277L248 273L247 269L248 266L250 263L253 262L257 262L260 262L264 262L266 260L267 258L268 255L268 250L269 246L271 242L273 240L276 240L279 242L283 244L286 247L288 250L291 250L293 250L295 248L298 245L301 242L305 241L308 241L310 244L312 247L313 252L314 256L315 260L316 262L318 263L322 264L325 264L329 265L332 266L335 269L336 272L335 276L334 280L332 284L331 287Z"/>
<ellipse class="w" cx="296" cy="295" rx="25" ry="30"/><ellipse class="l" cx="300" cy="296" rx="18" ry="24"/>
<ellipse class="p" cx="430" cy="225" rx="56" ry="68" transform="rotate(-15 430 225)"/>
<path class="w" d="M470 219L471 221L473 223L476 225L478 228L480 231L481 234L480 237L478 239L476 241L473 243L471 244L470 246L470 248L471 252L472 255L473 259L474 262L473 265L471 267L468 267L465 267L462 266L459 266L458 266L456 268L456 271L455 274L454 278L452 281L450 282L448 282L445 280L443 278L441 275L438 273L437 272L435 272L433 274L430 276L428 278L425 279L423 278L421 277L419 273L418 270L417 266L417 263L415 261L413 260L411 259L408 259L405 259L402 258L400 256L399 253L399 249L400 246L401 242L402 240L402 237L401 235L399 233L396 231L394 228L392 225L391 222L392 219L394 217L396 215L399 213L401 212L402 210L402 208L401 204L400 201L399 197L398 194L399 191L401 189L404 189L407 189L410 190L413 190L414 190L416 188L416 185L417 182L418 178L420 175L422 174L424 174L427 176L429 178L431 181L434 183L435 184L437 184L439 182L442 180L444 178L447 177L449 178L451 179L453 183L454 186L455 190L455 193L457 195L459 196L461 197L464 197L467 197L470 198L472 200L473 203L473 207L472 210L471 214L470 216Z"/>
<path class="p" d="M520 120L535 75L565 50L600 65L615 90L665 95L700 105L735 140L745 190L735 230L700 250L660 235L640 240L610 250L575 230L545 195L525 155Z"/>
<ellipse class="w" cx="598" cy="160" rx="40" ry="47" transform="rotate(-10 598 160)"/><ellipse class="l" cx="604" cy="160" rx="28" ry="36" transform="rotate(-10 604 160)"/>
<path class="l" d="M535 75L550 110L545 195M565 50L575 85L615 90M640 120L650 200L610 250M665 95L680 140L720 150L735 140M650 200L700 250M680 140L690 200L735 230M660 160L685 175M545 120L560 110"/>
<path class="w" d="M650 130L690 125L715 160L700 200L660 195Z"/><circle class="l" cx="683" cy="162" r="13"/><path class="l" d="M615 90L640 120M700 105L690 125M715 160L740 165M700 200L705 245M575 230L590 210M545 195L565 185M600 65L590 110"/>
<circle class="k" cx="545" cy="90" r="4"/><circle class="k" cx="700" cy="112" r="4"/><circle class="k" cx="730" cy="220" r="4"/><circle class="k" cx="610" cy="240" r="4"/>
</g>
<!-- 15_baffle.svg -->
<g class="z" transform="translate(440,565) scale(0.125)">
<path class="p" d="M50 300L80 270L70 245L120 215L180 195L215 205L225 180L290 155L340 140L375 150L390 120L440 90L520 65L545 80L600 120L650 150L700 175L750 165L775 180L760 200L700 215L640 240L630 260L580 265L540 275L520 290L490 290L480 315L440 325L420 310L370 340L300 370L290 390L230 400L190 390L150 365L100 345L60 325Z"/>
<path class="l" d="M215 205L360 300L420 310M235 185L385 285L480 290M375 150L520 240L630 250M395 130L545 225L640 240M80 270L130 250L190 225M100 345L160 330L330 270M150 365L200 380L290 370M290 155L340 175M440 90L500 120M600 120L560 140L520 130M700 175L640 200L560 215M225 180L250 175M120 215L150 250M60 325L90 300L300 240"/>
<path class="w" d="M130 270L190 248L205 258L145 282ZM190 320L260 295L275 305L205 332ZM300 215L360 192L375 202L315 226ZM340 250L410 225L425 235L355 262ZM470 140L530 118L545 128L485 152ZM545 180L610 155L625 165L560 192Z"/>
<path class="p" d="M370 455L380 500L350 540L280 600L255 625L265 660L310 690L380 690L425 665L435 625L410 600L440 570L445 550L410 555L420 520L455 490L460 455Z"/>
<ellipse class="p" cx="415" cy="445" rx="45" ry="22"/><ellipse class="w" cx="415" cy="442" rx="28" ry="12"/>
<path class="l" d="M375 480Q415 500 458 475M380 500Q400 515 420 520M280 600Q330 590 350 640L380 690M350 640Q390 600 410 600M265 660Q300 640 350 640M335 470L370 465L372 485L345 490Z"/>
</g>

<!-- 16_pan.svg -->
<g class="z" transform="translate(420,645) scale(0.1875)">
<path class="w" d="M30 240L80 205L180 170L300 130L400 75L460 40L490 50L560 85L680 150L735 160L755 185L750 230L720 260L690 285L640 290L600 270L530 290L520 330L530 400L490 430L470 510L420 540L360 545L345 560L320 575L290 560L200 520L100 470L40 440L30 340Z"/>
<path class="l" d="M30 240L320 335L355 322L430 275L590 205L620 215L680 180L735 160M75 235L320 312L345 300L420 255L590 185L650 165M75 235L120 215L300 150L400 95L455 60L485 70L640 150L650 165M30 255L320 350L360 338L430 292M80 250L85 420L110 470M130 270L100 440M180 300L200 480M215 300L160 490M290 340L290 540M330 345L330 560M355 330L360 540M430 280L410 420L440 470M490 300L480 420M520 330L470 350L460 430M600 205L600 270M640 200L640 285M690 190L690 285M720 180L720 255M620 230Q630 260 645 230M660 220Q672 250 685 215"/>
<path class="l" d="M120 215L150 235L230 250L300 230L330 300M300 150L300 230M230 250L260 190L300 200M400 95L395 160L420 210L480 160L560 180L590 185M395 160L360 140L350 200L300 230M420 210L430 140L455 60M480 160L500 110L485 70M250 260L255 200L280 195M140 250L210 210L260 240M560 180L570 155L590 165M340 150L400 120"/>
<path class="l" d="M100 262L95 430M150 282L140 470M245 322L240 520M60 250L62 430M310 345L310 555M380 320L385 530L420 540M450 270L445 330L470 350M560 225L555 285M530 240L530 290M400 300L395 345M360 200L365 250L420 255M300 230L260 260L240 250M180 195L175 225M455 60L450 120L480 160M520 100L515 150L560 180M600 150L598 180M140 250L150 235M640 290L650 250L690 250"/>
<g class="w"><circle cx="200" cy="410" r="12"/><circle cx="430" cy="455" r="13"/><circle cx="515" cy="395" r="12"/><circle cx="320" cy="545" r="10"/><circle cx="505" cy="298" r="11"/><circle cx="425" cy="200" r="10"/><circle cx="55" cy="290" r="9"/><circle cx="120" cy="265" r="7"/><circle cx="185" cy="295" r="7"/><circle cx="265" cy="335" r="7"/><circle cx="325" cy="318" r="7"/></g>
<path class="l" d="M188 402L215 395L228 405M418 446L445 438L458 448M503 387L530 380L543 390M400 300L420 380L400 440M440 330L470 320M430 380L460 400"/>
</g>


<g class="lb">
<text x="255.0" y="73.2" textLength="8.3" lengthAdjust="spacingAndGlyphs">3</text>
<text x="274.7" y="116.2" textLength="8.1" lengthAdjust="spacingAndGlyphs">4</text>
<text x="287.7" y="168.0" textLength="15.1" lengthAdjust="spacingAndGlyphs">13</text>
<text x="307.7" y="236.0" textLength="6.1" lengthAdjust="spacingAndGlyphs">1</text>
<text x="331.7" y="286.0" textLength="7.6" lengthAdjust="spacingAndGlyphs">2</text>
<text x="248.1" y="301.0" textLength="15.0" lengthAdjust="spacingAndGlyphs">21</text>
<text x="187.7" y="322.0" textLength="15.1" lengthAdjust="spacingAndGlyphs">21</text>
<text x="155.7" y="334.0" textLength="15.6" lengthAdjust="spacingAndGlyphs">18</text>
<text x="120.2" y="353.0" textLength="15.6" lengthAdjust="spacingAndGlyphs">19</text>
<text x="110.7" y="407.0" textLength="16.6" lengthAdjust="spacingAndGlyphs">20</text>
<text x="209.7" y="401.0" textLength="16.1" lengthAdjust="spacingAndGlyphs">20</text>
<text x="527.2" y="29.0" textLength="9.1" lengthAdjust="spacingAndGlyphs">3</text>
<text x="663.7" y="40.5" textLength="9.1" lengthAdjust="spacingAndGlyphs">4</text>
<text x="629.7" y="84.0" textLength="15.6" lengthAdjust="spacingAndGlyphs">13</text>
<text x="486.7" y="112.5" textLength="14.6" lengthAdjust="spacingAndGlyphs">12</text>
<text x="550.7" y="128.3" textLength="14.6" lengthAdjust="spacingAndGlyphs">10</text>
<text x="494.7" y="140.3" textLength="8.1" lengthAdjust="spacingAndGlyphs">9</text>
<text x="553.7" y="156.0" textLength="7.6" lengthAdjust="spacingAndGlyphs">8</text>
<text x="499.7" y="170.0" textLength="7.1" lengthAdjust="spacingAndGlyphs">7</text>
<text x="616.2" y="170.0" textLength="11.6" lengthAdjust="spacingAndGlyphs">11</text>
<text x="600.2" y="195.5" textLength="5.6" lengthAdjust="spacingAndGlyphs">1</text>
<text x="597.2" y="225.0" textLength="9.1" lengthAdjust="spacingAndGlyphs">2</text>
<text x="449.7" y="249.0" textLength="8.6" lengthAdjust="spacingAndGlyphs">6</text>
<text x="562.2" y="262.0" textLength="8.1" lengthAdjust="spacingAndGlyphs">5</text>
<text x="734.2" y="254.5" textLength="16.1" lengthAdjust="spacingAndGlyphs">22</text>
<text x="628.7" y="272.5" textLength="15.6" lengthAdjust="spacingAndGlyphs">23</text>
<text x="678.7" y="338.0" textLength="16.6" lengthAdjust="spacingAndGlyphs">24</text>
<text x="584.2" y="332.5" textLength="15.6" lengthAdjust="spacingAndGlyphs">25</text>
<text x="468.7" y="400.0" textLength="16.1" lengthAdjust="spacingAndGlyphs">27</text>
<text x="611.7" y="451.0" textLength="16.1" lengthAdjust="spacingAndGlyphs">28</text>
<text x="559.7" y="479.5" textLength="16.6" lengthAdjust="spacingAndGlyphs">26</text>
<text x="307.7" y="459.0" textLength="16.6" lengthAdjust="spacingAndGlyphs">29</text>
<text x="361.7" y="464.0" textLength="14.1" lengthAdjust="spacingAndGlyphs">17</text>
<text x="342.2" y="517.5" textLength="17.1" lengthAdjust="spacingAndGlyphs">30</text>
<text x="477.2" y="571.0" textLength="16.6" lengthAdjust="spacingAndGlyphs">27</text>
<text x="408.2" y="611.0" textLength="16.6" lengthAdjust="spacingAndGlyphs">32</text>
<text x="434.7" y="651.0" textLength="16.6" lengthAdjust="spacingAndGlyphs">34</text>
<text x="390.2" y="709.0" textLength="15.1" lengthAdjust="spacingAndGlyphs">31</text>
<text x="321.7" y="683.0" textLength="16.1" lengthAdjust="spacingAndGlyphs">33</text>
<text x="102.2" y="480.0" textLength="15.6" lengthAdjust="spacingAndGlyphs">14</text>
<text x="49.2" y="535.0" textLength="16.1" lengthAdjust="spacingAndGlyphs">20</text>
<text x="99.2" y="592.5" textLength="15.6" lengthAdjust="spacingAndGlyphs">19</text>
<text x="120.2" y="582.5" textLength="16.1" lengthAdjust="spacingAndGlyphs">16</text>
<text x="154.2" y="564.0" textLength="16.1" lengthAdjust="spacingAndGlyphs">18</text>
<text x="181.7" y="544.0" textLength="16.6" lengthAdjust="spacingAndGlyphs">20</text>
<text x="207.2" y="547.5" textLength="14.1" lengthAdjust="spacingAndGlyphs">15</text>
<text x="228.7" y="534.5" textLength="15.6" lengthAdjust="spacingAndGlyphs">18</text>
<text x="270.2" y="509.0" textLength="16.1" lengthAdjust="spacingAndGlyphs">21</text>
<text x="154.7" y="474.5" textLength="16.1" lengthAdjust="spacingAndGlyphs">19</text>
<text x="212.2" y="432.5" textLength="16.1" lengthAdjust="spacingAndGlyphs">20</text>
</g>
<g>
<path class="a" d="M264.0 65.6L282.8 65.6"/><path class="h" d="M282.8 65.6L276.9 62.6L276.9 68.5Z"/>
<path class="a" d="M285.0 109.5L302.5 109.5"/><path class="h" d="M302.5 109.5L296.6 106.5L296.6 112.5Z"/>
<path class="a" d="M315.5 228.8L335.0 228.8"/><path class="h" d="M335.0 228.8L329.1 225.9L329.1 231.8Z"/>
<path class="a" d="M340.5 278.8L359.5 278.8"/><path class="h" d="M359.5 278.8L353.6 275.9L353.6 281.8Z"/>
<path class="a" d="M256.2 302.5L256.2 322.5"/><path class="h" d="M256.2 322.5L253.2 316.6L259.1 316.6Z"/>
<path class="a" d="M195.7 324.0L195.7 343.5"/><path class="h" d="M195.7 343.5L192.8 337.6L198.6 337.6Z"/>
<path class="a" d="M163.0 336.0L163.0 354.0"/><path class="h" d="M163.0 354.0L160.1 348.1L165.9 348.1Z"/>
<path class="a" d="M128.0 355.0L128.0 373.5"/><path class="h" d="M128.0 373.5L125.0 367.6L130.9 367.6Z"/>
<path class="a" d="M129.0 400.0L148.0 400.0"/><path class="h" d="M148.0 400.0L142.1 397.1L142.1 402.9Z"/>
<path class="a" d="M208.0 393.5L190.0 393.5"/><path class="h" d="M190.0 393.5L195.9 390.6L195.9 396.4Z"/>
<path class="a" d="M538.0 22.0L557.5 22.0"/><path class="h" d="M557.5 22.0L551.6 19.1L551.6 24.9Z"/>
<path class="a" d="M662.0 34.0L644.0 34.0"/><path class="h" d="M644.0 34.0L649.9 31.1L649.9 37.0Z"/>
<path class="a" d="M503.0 107.5L521.0 107.5"/><path class="h" d="M521.0 107.5L515.1 104.5L515.1 110.5Z"/>
<path class="a" d="M548.0 122.5L531.0 122.5"/><path class="h" d="M531.0 122.5L536.9 119.5L536.9 125.5Z"/>
<path class="a" d="M505.0 134.0L524.0 134.0"/><path class="h" d="M524.0 134.0L518.1 131.1L518.1 136.9Z"/>
<path class="a" d="M552.0 150.0L534.0 150.0"/><path class="h" d="M534.0 150.0L539.9 147.1L539.9 152.9Z"/>
<path class="a" d="M508.0 164.5L525.0 164.5"/><path class="h" d="M525.0 164.5L519.1 161.6L519.1 167.4Z"/>
<path class="a" d="M614.0 164.5L595.0 164.5"/><path class="h" d="M595.0 164.5L600.9 161.6L600.9 167.4Z"/>
<path class="a" d="M598.0 189.5L580.5 189.5"/><path class="h" d="M580.5 189.5L586.4 186.6L586.4 192.4Z"/>
<path class="a" d="M595.0 218.8L577.5 218.8"/><path class="h" d="M577.5 218.8L583.4 215.9L583.4 221.8Z"/>
<path class="a" d="M460.0 243.0L477.5 243.0"/><path class="h" d="M477.5 243.0L471.6 240.1L471.6 245.9Z"/>
<path class="a" d="M560.0 255.5L542.5 255.5"/><path class="h" d="M542.5 255.5L548.4 252.6L548.4 258.4Z"/>
<path class="a" d="M646.0 265.3L664.5 265.3"/><path class="h" d="M664.5 265.3L658.6 262.4L658.6 268.2Z"/>
<path class="a" d="M610.0 444.0L592.5 444.0"/><path class="h" d="M592.5 444.0L598.4 441.1L598.4 446.9Z"/>
<path class="a" d="M558.0 473.0L540.0 473.0"/><path class="h" d="M540.0 473.0L545.9 470.1L545.9 475.9Z"/>
<path class="a" d="M316.0 444.0L316.0 424.0"/><path class="h" d="M316.0 424.0L313.1 429.9L318.9 429.9Z"/>
<path class="a" d="M368.0 449.0L368.0 430.0"/><path class="h" d="M368.0 430.0L365.1 435.9L370.9 435.9Z"/>
<path class="a" d="M361.0 509.5L380.0 509.5"/><path class="h" d="M380.0 509.5L374.1 506.6L374.1 512.5Z"/>
<path class="a" d="M426.0 604.5L445.0 604.5"/><path class="h" d="M445.0 604.5L439.1 601.5L439.1 607.5Z"/>
<path class="a" d="M453.0 644.5L471.0 644.5"/><path class="h" d="M471.0 644.5L465.1 641.5L465.1 647.5Z"/>
<path class="a" d="M407.0 702.5L425.0 702.5"/><path class="h" d="M425.0 702.5L419.1 699.5L419.1 705.5Z"/>
<path class="a" d="M108.8 482.0L108.8 500.0"/><path class="h" d="M108.8 500.0L105.8 494.1L111.8 494.1Z"/>
<path class="a" d="M67.0 528.0L86.0 528.0"/><path class="h" d="M86.0 528.0L80.1 525.0L80.1 531.0Z"/>
<path class="a" d="M107.0 578.0L107.0 559.5"/><path class="h" d="M107.0 559.5L104.0 565.4L110.0 565.4Z"/>
<path class="a" d="M128.0 568.0L128.0 549.5"/><path class="h" d="M128.0 549.5L125.0 555.4L130.9 555.4Z"/>
<path class="a" d="M162.5 549.0L162.5 531.0"/><path class="h" d="M162.5 531.0L159.6 536.9L165.4 536.9Z"/>
<path class="a" d="M190.0 530.0L190.0 512.5"/><path class="h" d="M190.0 512.5L187.1 518.4L192.9 518.4Z"/>
<path class="a" d="M214.0 533.0L214.0 515.0"/><path class="h" d="M214.0 515.0L211.1 520.9L216.9 520.9Z"/>
<path class="a" d="M236.0 519.0L236.0 502.5"/><path class="h" d="M236.0 502.5L233.1 508.4L238.9 508.4Z"/>
<path class="a" d="M172.0 468.0L191.0 468.0"/><path class="h" d="M191.0 468.0L185.1 465.1L185.1 470.9Z"/>
<path class="a" d="M220.0 434.0L220.0 452.5"/><path class="h" d="M220.0 452.5L217.1 446.6L222.9 446.6Z"/>
<path class="a" d="M303.5 161.5L308.0 161.5"/>
<path class="a" d="M321.0 155.5L308.0 155.5L308.0 167.0L340.0 167.0"/>
<path class="h" d="M327.5 155.5L321.6 152.6L321.6 158.4Z"/>
<path class="h" d="M346.0 167.0L340.1 164.1L340.1 169.9Z"/>
<path class="a" d="M629.0 78.5L627.0 78.5"/>
<path class="a" d="M599.0 72.5L627.0 72.5L627.0 85.0L612.0 85.0"/>
<path class="h" d="M592.5 72.5L598.4 69.5L598.4 75.5Z"/>
<path class="h" d="M606.0 85.0L611.9 82.0L611.9 88.0Z"/>
<path class="a" d="M733.0 247.5L730.0 247.5"/>
<path class="a" d="M717.0 237.0L730.0 237.0L730.0 257.0L705.0 257.0"/>
<path class="h" d="M711.0 237.0L716.9 234.1L716.9 239.9Z"/>
<path class="h" d="M699.0 257.0L704.9 254.1L704.9 259.9Z"/>
<path class="a" d="M677.5 332.0L674.5 332.0"/>
<path class="a" d="M661.0 309.0L674.5 309.0L674.5 351.0L637.0 351.0"/>
<path class="h" d="M655.0 309.0L660.9 306.1L660.9 311.9Z"/>
<path class="h" d="M631.0 351.0L636.9 348.1L636.9 353.9Z"/>
<path class="a" d="M601.0 326.5L605.0 326.5"/>
<path class="a" d="M623.0 320.5L605.0 320.5L605.0 332.0L619.0 332.0"/>
<path class="h" d="M629.0 320.5L623.1 317.6L623.1 323.4Z"/>
<path class="h" d="M625.0 332.0L619.1 329.1L619.1 334.9Z"/>
<path class="a" d="M476.7 401.5L476.7 406.0"/>
<path class="a" d="M444.5 417.0L512.0 394.0"/>
<path class="a" d="M444.5 417.0L444.5 436.0"/>
<path class="h" d="M444.5 441.0L441.6 435.1L447.4 435.1Z"/>
<path class="a" d="M465.0 410.0L465.0 428.0"/>
<path class="h" d="M465.0 433.0L462.1 427.1L467.9 427.1Z"/>
<path class="a" d="M488.5 402.0L488.5 419.0"/>
<path class="h" d="M488.5 424.0L485.6 418.1L491.4 418.1Z"/>
<path class="a" d="M512.0 394.0L512.0 408.0"/>
<path class="h" d="M512.0 413.0L509.1 407.1L515.0 407.1Z"/>
<path class="a" d="M485.0 557.0L485.0 553.5"/>
<path class="a" d="M451.0 563.0L529.0 541.0"/>
<path class="a" d="M451.0 563.0L451.0 548.6"/>
<path class="h" d="M451.0 543.6L448.1 549.5L453.9 549.5Z"/>
<path class="a" d="M476.0 556.0L476.0 537.6"/>
<path class="h" d="M476.0 532.6L473.1 538.5L478.9 538.5Z"/>
<path class="a" d="M501.0 549.0L501.0 529.4"/>
<path class="h" d="M501.0 524.4L498.1 530.3L503.9 530.3Z"/>
<path class="a" d="M529.0 541.0L529.0 517.5"/>
<path class="h" d="M529.0 512.5L526.0 518.4L532.0 518.4Z"/>
<path class="a" d="M278.5 494.5L278.5 490.0"/>
<path class="a" d="M267.0 455.0L267.0 490.0L290.0 490.0L290.0 476.0"/>
<path class="h" d="M267.0 449.0L264.1 454.9L269.9 454.9Z"/>
<path class="h" d="M290.0 470.5L287.1 476.4L292.9 476.4Z"/>
<path class="a" d="M330.0 668.0L330.0 662.0"/>
<path class="a" d="M286.0 677.5L371.0 647.5"/>
<path class="a" d="M286.0 677.5L286.0 662.5"/>
<path class="h" d="M286.0 657.5L283.1 663.4L288.9 663.4Z"/>
<path class="a" d="M314.0 667.6L314.0 641.0"/>
<path class="h" d="M314.0 636.0L311.1 641.9L316.9 641.9Z"/>
<path class="a" d="M339.5 658.6L339.5 630.5"/>
<path class="h" d="M339.5 625.5L336.6 631.4L342.4 631.4Z"/>
<path class="a" d="M371.0 647.5L371.0 623.0"/>
<path class="h" d="M371.0 618.0L368.1 623.9L373.9 623.9Z"/>
</g>
<g class="bn">
<rect x="49" y="751" width="701.5" height="49" fill="#f0860f"/>
<text y="771.4"><tspan x="55.0" textLength="35.6" lengthAdjust="spacingAndGlyphs">Only</tspan> <tspan x="95.5" textLength="28.9" lengthAdjust="spacingAndGlyphs">one</tspan> <tspan x="130.8" textLength="30.9" lengthAdjust="spacingAndGlyphs">part</tspan> <tspan x="168.1" textLength="14.7" lengthAdjust="spacingAndGlyphs">or</tspan> <tspan x="188.3" textLength="108.9" lengthAdjust="spacingAndGlyphs">sub-assembly</tspan> <tspan x="303.6" textLength="11.7" lengthAdjust="spacingAndGlyphs">in</tspan> <tspan x="321.6" textLength="65.2" lengthAdjust="spacingAndGlyphs">diagram</tspan> <tspan x="392.6" textLength="70.9" lengthAdjust="spacingAndGlyphs">included.</tspan> <tspan x="470.6" textLength="25.9" lengthAdjust="spacingAndGlyphs">See</tspan> <tspan x="502.6" textLength="31.9" lengthAdjust="spacingAndGlyphs">Item</tspan> <tspan x="541.5" textLength="67.7" lengthAdjust="spacingAndGlyphs">Specifics</tspan> <tspan x="614.8" textLength="19.9" lengthAdjust="spacingAndGlyphs">for</tspan> <tspan x="641.8" textLength="75.4" lengthAdjust="spacingAndGlyphs">Reference</tspan> <tspan x="723.5" textLength="14.2" lengthAdjust="spacingAndGlyphs">#.</tspan></text>
<text y="791"><tspan x="55.0" textLength="63.4" lengthAdjust="spacingAndGlyphs">Diagram</tspan> <tspan x="124.8" textLength="28.9" lengthAdjust="spacingAndGlyphs">may</tspan> <tspan x="160.6" textLength="22.1" lengthAdjust="spacingAndGlyphs">not</tspan> <tspan x="188.3" textLength="16.9" lengthAdjust="spacingAndGlyphs">be</tspan> <tspan x="210.8" textLength="55.1" lengthAdjust="spacingAndGlyphs">specific</tspan> <tspan x="271.3" textLength="13.9" lengthAdjust="spacingAndGlyphs">to</tspan> <tspan x="290.8" textLength="31.1" lengthAdjust="spacingAndGlyphs">your</tspan> <tspan x="327.6" textLength="54.4" lengthAdjust="spacingAndGlyphs">vehicle.</tspan> <tspan x="387.3" textLength="25.9" lengthAdjust="spacingAndGlyphs">See</tspan> <tspan x="417.3" textLength="100.7" lengthAdjust="spacingAndGlyphs">Compatibility</tspan> <tspan x="525.0" textLength="19.9" lengthAdjust="spacingAndGlyphs">for</tspan> <tspan x="552.0" textLength="108.9" lengthAdjust="spacingAndGlyphs">vehicle-specific</tspan> <tspan x="668.0" textLength="69.7" lengthAdjust="spacingAndGlyphs">diagrams.</tspan></text>
</g>
</svg>
</body></html>
